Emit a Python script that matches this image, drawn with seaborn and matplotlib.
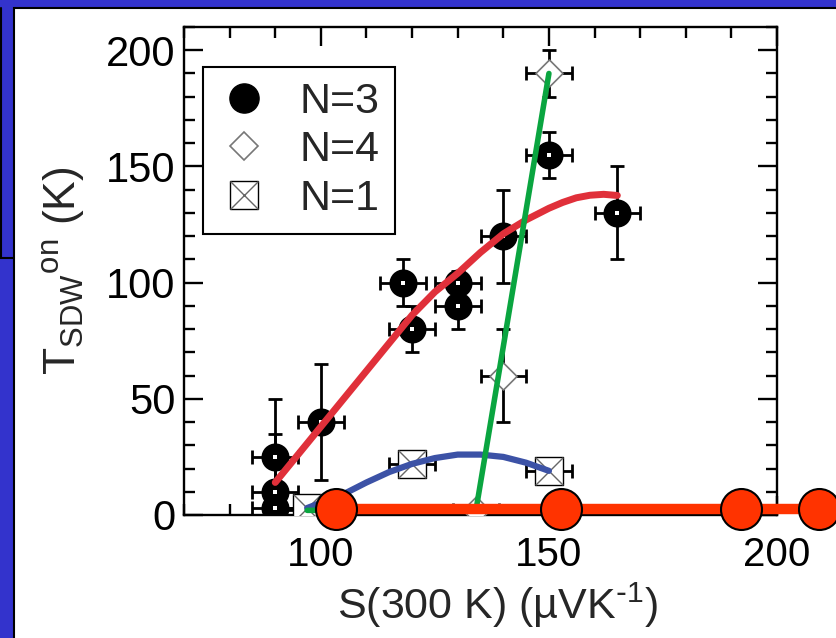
import matplotlib
matplotlib.use("Agg")
import matplotlib.pyplot as plt
import seaborn as sns
from matplotlib.patches import Rectangle
from matplotlib.lines import Line2D
from matplotlib.ticker import MultipleLocator

# N=3 samples (S at 300 K, T_SDW onset) with error bars
n3_s = [90, 90, 90, 100, 118, 120, 130, 130, 140, 150, 165]
n3_t = [3, 10, 25, 40, 100, 80, 100, 90, 120, 155, 130]
n3_ds = [5, 5, 5, 5, 5, 5, 5, 5, 5, 5, 5]
n3_dt = [5, 25, 25, 25, 10, 10, 5, 10, 20, 10, 20]

# N=4 samples
n4_s = [97, 134, 140, 150]
n4_t = [2, 2, 60, 190]
n4_ds = [5, 5, 5, 5]
n4_dt = [0, 0, 20, 10]

# N=1 samples
n1_s = [97, 120, 150]
n1_t = [3, 22, 19]
n1_ds = [5, 5, 5]

# guide-to-the-eye curves
red_s = [90, 95, 100, 105, 110, 115, 120, 125, 130, 135, 140, 145, 150, 153, 156, 159, 162, 165]
red_t = [14, 26, 38, 50, 62, 74, 86, 96, 104, 113, 121, 127, 132, 134.5, 136.5, 137.6, 138, 137.5]
blue_s = [97, 105, 110, 115, 120, 125, 130, 135, 140, 145, 150]
blue_t = [3, 9, 14, 18.5, 22, 24.5, 26, 26, 25, 22.5, 19]
green_s = [97, 134, 150]
green_t = [2, 2, 190]

# orange overlay (slide annotation)
orange_line_s = [103.3, 215]
orange_line_t = [2.6, 2.6]
orange_s = [103.3, 152.6, 192.0, 209.3]
orange_t = [2.6, 2.6, 2.6, 2.6]

sns.set_style("ticks")
plt.rcParams["font.family"] = ["Liberation Sans", "DejaVu Sans"]
plt.rcParams["mathtext.default"] = "regular"

W, H = 836, 638
fig = plt.figure(figsize=(W / 100, H / 100), dpi=100, facecolor="#3333cc")

# slide background: white panel with black border, old panel outline top-left
fig.add_artist(Rectangle((14 / W, -5 / H), (W - 9) / W, (H - 3) / H, transform=fig.transFigure,
                         facecolor="white", edgecolor="black", lw=1.5, zorder=-10))
fig.add_artist(Line2D([0.6 / W, 0.6 / W], [1 - 8 / H, 1 - 258 / H], transform=fig.transFigure,
                      color="black", lw=1.5, zorder=-9))
fig.add_artist(Line2D([0, 14 / W], [1 - 258 / H, 1 - 258 / H], transform=fig.transFigure,
                      color="black", lw=1.5, zorder=-9))

ax = fig.add_axes([184 / W, 1 - 515 / H, (777 - 184) / W, (515 - 27) / H])
ax.set_facecolor("white")

# error bars
ax.errorbar(n3_s, n3_t, xerr=n3_ds, yerr=n3_dt, fmt="none", ecolor="black",
            elinewidth=2, capsize=5, capthick=2, zorder=3)
ax.errorbar(n4_s, n4_t, xerr=n4_ds, yerr=n4_dt, fmt="none", ecolor="black",
            elinewidth=2, capsize=5, capthick=2, zorder=3)
ax.errorbar(n1_s, n1_t, xerr=n1_ds, fmt="none", ecolor="black",
            elinewidth=2, capsize=5, capthick=2, zorder=3)

# markers
sns.scatterplot(x=n3_s, y=n3_t, s=350, color="black", edgecolor="black", ax=ax, zorder=4)
sns.scatterplot(x=n3_s, y=n3_t, s=7, marker="s", color="white", linewidth=0, ax=ax, zorder=4.5)
sns.scatterplot(x=n4_s, y=n4_t, s=190, marker="D", facecolor="white", edgecolor="#777777",
                linewidth=1.2, ax=ax, zorder=4)
sns.scatterplot(x=n1_s, y=n1_t, s=400, marker="s", facecolor="white", edgecolor="black",
                linewidth=1, ax=ax, zorder=4)
sns.scatterplot(x=n1_s, y=n1_t, s=400, marker="x", color="#666666", linewidth=1, ax=ax, zorder=4.2)

# curves
sns.lineplot(x=red_s, y=red_t, color="#e0303a", lw=5, ax=ax, zorder=5)
sns.lineplot(x=blue_s, y=blue_t, color="#3c52a6", lw=4.5, ax=ax, zorder=5)
sns.lineplot(x=green_s, y=green_t, color="#0aa540", lw=4, ax=ax, zorder=5, sort=False)

# orange overlay, reaching past the axes
sns.lineplot(x=orange_line_s, y=orange_line_t, color="#ff3300", lw=7.5, ax=ax, zorder=6,
             clip_on=False)
sns.scatterplot(x=orange_s, y=orange_t, s=870, color="#ff3300", edgecolor="black",
                linewidth=1.5, ax=ax, zorder=7, clip_on=False)

ax.set_xlim(70, 200)
ax.set_ylim(0, 210)
ax.xaxis.set_major_locator(MultipleLocator(50))
ax.xaxis.set_minor_locator(MultipleLocator(10))
ax.yaxis.set_major_locator(MultipleLocator(50))
ax.yaxis.set_minor_locator(MultipleLocator(10))
ax.tick_params(which="both", direction="in", top=True, right=True, width=1.7, colors="black")
ax.tick_params(which="major", length=14)
ax.tick_params(which="minor", length=8)
ax.tick_params(axis="x", which="major", labelsize=29, pad=15)
ax.tick_params(axis="y", which="major", labelsize=30, pad=6)
for sp in ax.spines.values():
    sp.set_linewidth(1.7)
    sp.set_color("black")

ax.set_xlabel("S(300 K) (\u00b5VK$^{\\text{-}1}$)", fontsize=31)
ax.xaxis.set_label_coords(0.528, -0.135)
ax.set_ylabel("T$_{SDW}$$^{on}$ (K)", fontsize=32, labelpad=14)

h3 = Line2D([], [], marker="o", ls="none", color="black", markersize=21)
h4 = Line2D([], [], marker="D", ls="none", mfc="white", mec="#777777", markersize=14, mew=1.2)
h1a = Line2D([], [], marker="s", ls="none", mfc="white", mec="black", markersize=20, mew=1)
h1b = Line2D([], [], marker="x", ls="none", color="#666666", markersize=20, mew=1)
leg = ax.legend([h3, h4, (h1a, h1b)], ["N=3", "N=4", "N=1"], loc="upper left",
                bbox_to_anchor=(0.0315, 0.919), borderaxespad=0, fontsize=31,
                frameon=True, fancybox=False, edgecolor="black", framealpha=1,
                handlelength=1.2, handletextpad=0.7, labelspacing=0.2, borderpad=0.35)
leg.get_frame().set_linewidth(1.5)
leg.set_zorder(8)

fig.savefig("out.png", dpi=100, facecolor=fig.get_facecolor())
